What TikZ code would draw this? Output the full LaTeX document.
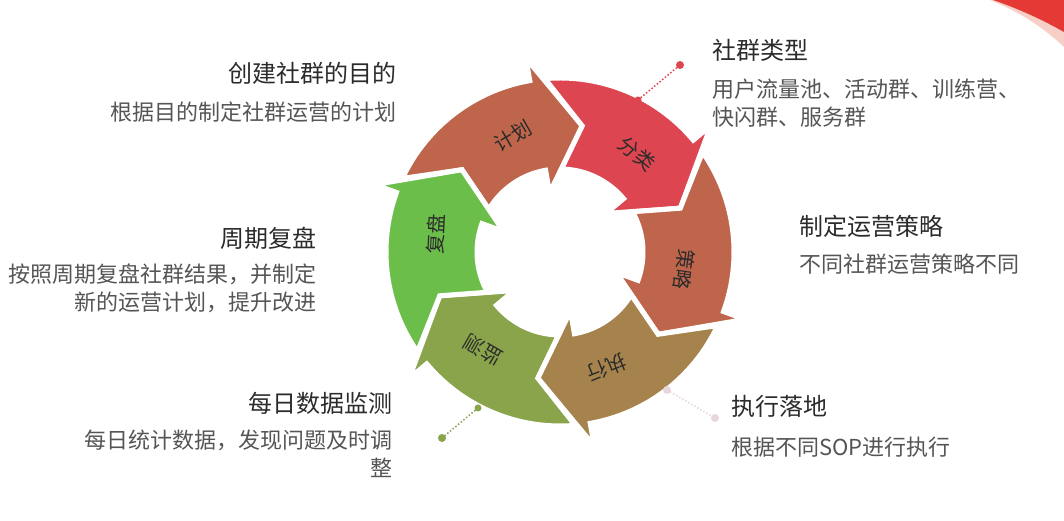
\documentclass[tikz,border=0pt]{standalone}
\usepackage{fontspec}
\setmainfont{Noto Sans CJK SC}
\usepackage{tikz}
\usepackage{color}
\definecolor{jihua}{HTML}{BF654C}
\definecolor{fenlei}{HTML}{DD4651}
\definecolor{celue}{HTML}{BF654C}
\definecolor{zhixing}{HTML}{A6834C}
\definecolor{jiance}{HTML}{89A44B}
\definecolor{fupan}{HTML}{6CBE4B}
\definecolor{dianfen}{HTML}{E8D6DC}
\definecolor{jiaohong}{HTML}{E53935}
\definecolor{qianhong}{HTML}{F8CFC6}
\definecolor{biaoti}{HTML}{2B2B2B}
\definecolor{zhengwen}{HTML}{555555}

\begin{document}
\begin{tikzpicture}[x=1pt,y=1pt,
  hd/.style={font=\fontsize{24}{28}\selectfont,text=biaoti,inner sep=0pt},
  bd/.style={font=\fontsize{22}{27.5}\selectfont,text=zhengwen,inner sep=0pt},
  lab/.style={font=\fontsize{20}{22}\selectfont,text=biaoti,inner sep=0pt},
  lead/.style={dotted,line width=1.5pt}]
\useasboundingbox (0,0) rectangle (1064,521);

\fill[qianhong] (990,521) .. controls (1022,508) and (1045,492) .. (1064,474) -- (1064,521) -- cycle;
\fill[jiaohong] (993,521) .. controls (1025,510) and (1048,498) .. (1064,489) -- (1064,521) -- cycle;

\begin{scope}[shift={(560,269)}]
\foreach \t/\c/\s/\r [count=\i] in {80/jihua/计划/30,20/fenlei/分类/-40,-40/celue/策略/-98,-100/zhixing/执行/-158,-160/jiance/监测/-210,140/fupan/复盘/87}
{
\filldraw[fill=\c,draw=white,line width=5pt] (\t+75:174) arc[start angle=\t+75,end angle=\t+20,radius=174]
  -- (\t+20:197) -- (\t:128) -- (\t+20:60) -- (\t+20:83)
  arc[start angle=\t+20,end angle=\t+69,radius=83] -- (\t+60:128) -- cycle;
\node[lab,rotate=\r] (a\i) at (\t+32:125) {\s};
}
\end{scope}

\coordinate (p1) at (638,421);
\coordinate (q1) at (680,456);
\draw[lead,color=fenlei] (p1) -- (q1);
\fill[fenlei] (p1) circle (3.5);
\fill[fenlei] (q1) circle (4);

\coordinate (p2) at (667,131);
\coordinate (q2) at (715,103);
\draw[lead,color=dianfen] (p2) -- (q2);
\fill[dianfen] (p2) circle (4);
\fill[dianfen] (q2) circle (4);

\coordinate (p3) at (478,113);
\coordinate (q3) at (442,83);
\draw[lead,color=jiance] (p3) -- (q3);
\fill[jiance] (p3) circle (3.5);
\fill[jiance] (q3) circle (4);

\node[hd,anchor=east] (h1) at (397,448) {创建社群的目的};
\node[bd,anchor=east] (b1) at (397,409) {根据目的制定社群运营的计划};

\node[hd,anchor=west] (h2) at (712,471) {社群类型};
\node[bd,anchor=west,align=left] (b2) at (712,418) {用户流量池、活动群、训练营、\\快闪群、服务群};

\node[hd,anchor=west] (h3) at (799,295) {制定运营策略};
\node[bd,anchor=west] (b3) at (799,257) {不同社群运营策略不同};

\node[hd,anchor=west] (h4) at (731,115) {执行落地};
\node[bd,anchor=west] (b4) at (731,74) {根据不同SOP进行执行};

\node[hd,anchor=east] (h5) at (393,118) {每日数据监测};
\node[bd,anchor=east,align=right] (b5) at (393,67) {每日统计数据，发现问题及时调\\整};

\node[hd,anchor=east] (h6) at (317,283) {周期复盘};
\node[bd,anchor=east,align=right] (b6) at (317,232.5) {按照周期复盘社群结果，并制定\\新的运营计划，提升改进};
\end{tikzpicture}
\end{document}
